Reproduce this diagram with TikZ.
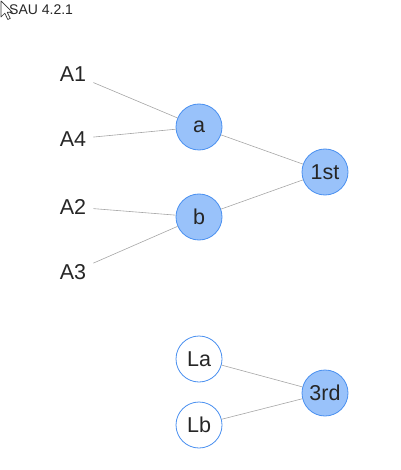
\documentclass[tikz,border=0pt]{standalone}
\usepackage{fontspec}
\setmainfont{Liberation Sans}
\begin{document}
\begin{tikzpicture}[x=1pt,y=-1pt,
  every node/.style={font=\fontsize{21.5}{24}\selectfont, text=black!85},
  vert/.style={circle, minimum size=46pt, inner sep=0pt, draw={rgb,255:red,74;green,144;blue,240}, line width=0.8pt},
  filled/.style={vert, fill={rgb,255:red,153;green,194;blue,250}},
  hollow/.style={vert, fill=white},
  leaf/.style={inner sep=7pt},
  edge/.style={draw=black!35, line width=0.6pt}]
\useasboundingbox (0,0) rectangle (400,470);

% pointer icon and caption
\draw[fill=white, draw=black!80, line width=0.7pt, line join=round]
  (1,1) -- (1,17) -- (4.8,13.2) -- (7.8,19.5) -- (10.2,18.4) -- (7.3,12.3) -- (12.5,12.3) -- cycle;
\node[anchor=west, inner sep=0pt, font=\fontsize{14}{16}\selectfont] (cap) at (9,10) {SAU 4.2.1};

% leaves
\node[leaf] (A1) at (73,74) {A1};
\node[leaf] (A4) at (73,139) {A4};
\node[leaf] (A2) at (73,207) {A2};
\node[leaf] (A3) at (73,272) {A3};

% tree nodes
\node[filled] (a) at (199,127) {a};
\node[filled] (b) at (199,217) {b};
\node[filled] (first) at (325,172) {1st};
\node[hollow] (La) at (199,359) {La};
\node[hollow] (Lb) at (199,425) {Lb};
\node[filled] (third) at (325,393) {3rd};

% connectors
\draw[edge] (A1) -- (a);
\draw[edge] (A4) -- (a);
\draw[edge] (A2) -- (b);
\draw[edge] (A3) -- (b);
\draw[edge] (a) -- (first);
\draw[edge] (b) -- (first);
\draw[edge] (La) -- (third);
\draw[edge] (Lb) -- (third);
\end{tikzpicture}
\end{document}
